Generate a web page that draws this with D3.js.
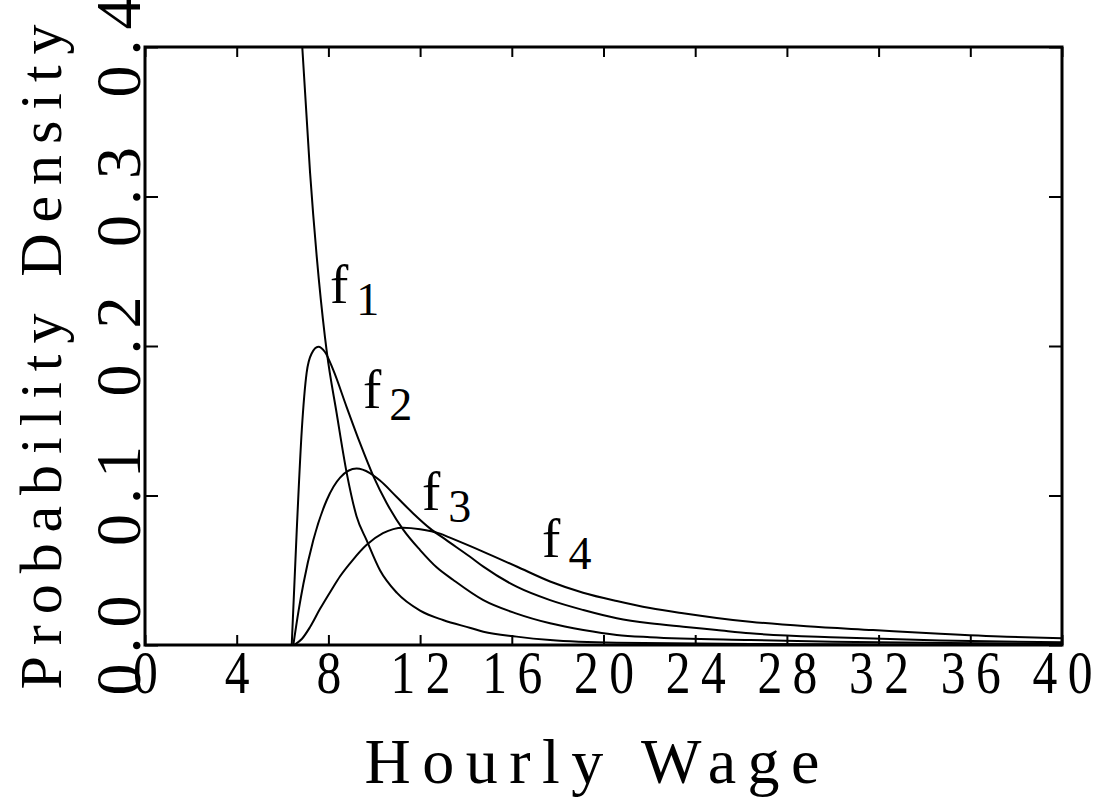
<!DOCTYPE html>
<html>
<head>
<meta charset="utf-8">
<script src="https://cdn.jsdelivr.net/npm/d3@7"></script>
<style>
  body { margin: 0; background: #fff; }
  text { font-family: "Liberation Serif", serif; fill: #000; }
</style>
</head>
<body>
<div id="chart"></div>
<script>
// tick values
var xTicks = [0, 4, 8, 12, 16, 20, 24, 28, 32, 36, 40];
var yTicks = [0, 0.1, 0.2, 0.3, 0.4];

// curves (hourly wage, density)
var f1Wage = [6.86, 7.20, 7.49, 7.85, 7.93, 8.36, 8.80, 9.23, 9.67, 10.25, 10.98, 12.0, 13.0, 14.2, 14.76, 16.21, 17.67, 20.58, 26.4, 32, 40];
var f1Dens = [0.400, 0.316, 0.260, 0.206, 0.196, 0.155, 0.115, 0.086, 0.070, 0.050, 0.035, 0.023, 0.0167, 0.0114, 0.0089, 0.0056, 0.0033, 0.0015, 0.0007, 0.0004, 0.0002];

var f2Wage = [6.40, 6.62, 6.84, 7.05, 7.27, 7.56, 7.85, 8.21, 8.80, 9.38, 9.96, 10.54, 11.27, 12.0, 12.72, 13.45, 14.76, 16.21, 17.67, 19.12, 20.58, 22.03, 26.4, 30, 35, 40];
var f2Dens = [0, 0.077, 0.144, 0.182, 0.195, 0.1995, 0.196, 0.184, 0.159, 0.135, 0.113, 0.095, 0.077, 0.0635, 0.052, 0.0435, 0.030, 0.021, 0.0145, 0.010, 0.0067, 0.0052, 0.0033, 0.0022, 0.0013, 0.0008];

var f3Wage = [6.47, 6.70, 6.91, 7.34, 7.93, 8.51, 9.23, 9.81, 10.25, 10.98, 11.70, 12.43, 13.16, 14.18, 14.76, 16.21, 17.67, 19.12, 20.58, 22.03, 23.48, 24.94, 26.39, 30.3, 34.7, 40];
var f3Dens = [0, 0.023, 0.041, 0.070, 0.097, 0.112, 0.118, 0.115, 0.110, 0.099, 0.088, 0.078, 0.070, 0.059, 0.0524, 0.039, 0.030, 0.0234, 0.0179, 0.0145, 0.0122, 0.0100, 0.0078, 0.005, 0.003, 0.0018];

var f4Wage = [6.50, 6.84, 7.20, 7.63, 8.14, 8.51, 9.07, 9.67, 10.38, 11.25, 12.0, 12.87, 13.30, 14.74, 16.21, 17.67, 19.11, 20.58, 22.03, 23.47, 24.94, 26.39, 28.86, 31.76, 34.68, 37.59, 40];
var f4Dens = [0, 0.004, 0.012, 0.024, 0.037, 0.046, 0.057, 0.067, 0.0748, 0.0785, 0.0775, 0.0745, 0.0718, 0.0625, 0.0525, 0.0425, 0.0350, 0.0294, 0.0247, 0.0212, 0.0181, 0.0156, 0.0125, 0.0100, 0.0075, 0.0055, 0.0045];

// curve labels: subscript, anchor wage, anchor density
var labelSubs = ["1", "2", "3", "4"];
var labelWage = [8.07, 9.51, 12.08, 17.32];
var labelDens = [0.229, 0.1585, 0.0903, 0.0589];

var width = 1097, height = 803;
var margin = {top: 47, right: 35, bottom: 158, left: 145};
var plotW = width - margin.left - margin.right,
    plotH = height - margin.top - margin.bottom;

var svg = d3.select("#chart").append("svg")
    .attr("width", width)
    .attr("height", height);

var g = svg.append("g")
    .attr("transform", "translate(" + margin.left + "," + margin.top + ")");

var x = d3.scaleLinear().domain([0, 40]).range([0, plotW]);
var y = d3.scaleLinear().domain([0, 0.4]).range([plotH, 0]);

g.append("clipPath").attr("id", "clip")
  .append("rect").attr("width", plotW).attr("height", plotH);

// axes, ticks pointing inward
var axisB = g.append("g")
    .attr("transform", "translate(0," + plotH + ")")
    .call(d3.axisBottom(x).tickValues(xTicks).tickSize(-10).tickSizeOuter(0));
var axisT = g.append("g")
    .call(d3.axisTop(x).tickValues(xTicks).tickSize(-10).tickSizeOuter(0).tickFormat(""));
var axisL = g.append("g")
    .call(d3.axisLeft(y).tickValues(yTicks).tickSize(-13).tickSizeOuter(0).tickFormat(d3.format(".1f")));
var axisR = g.append("g")
    .attr("transform", "translate(" + plotW + ",0)")
    .call(d3.axisRight(y).tickValues(yTicks).tickSize(-13).tickSizeOuter(0).tickFormat(""));

[axisB, axisT, axisL, axisR].forEach(function (a) {
    a.select(".domain").remove();
    a.selectAll("line").attr("stroke", "#000").attr("stroke-width", 2);
});

// narrow, spaced-out digits like the plotter font
axisB.selectAll("text")
    .attr("y", 48)
    .attr("dy", 0)
    .attr("font-size", "62px")
    .attr("font-family", "Liberation Serif")
    .attr("transform", "scale(0.8,1)")
    .each(function (d) {
        if (String(d).length > 1) {
            d3.select(this)
                .attr("textLength", String(d).length * 30 / 0.8)
                .attr("lengthAdjust", "spacing");
        }
    });

axisL.selectAll("text")
    .attr("x", 0)
    .attr("dy", 0)
    .attr("text-anchor", "middle")
    .attr("transform", "translate(-5,0) rotate(-90)")
    .attr("font-size", "64px")
    .attr("font-family", "Liberation Serif")
    .attr("textLength", 100)
    .attr("lengthAdjust", "spacing");

// frame
g.append("rect")
    .attr("width", plotW)
    .attr("height", plotH)
    .attr("fill", "none")
    .attr("stroke", "#000")
    .attr("stroke-width", 3);

var series = [
    d3.zip(f1Wage, f1Dens),
    d3.zip(f2Wage, f2Dens),
    d3.zip(f3Wage, f3Dens),
    d3.zip(f4Wage, f4Dens)
];

var line = d3.line()
    .x(function (d) { return x(d[0]); })
    .y(function (d) { return y(d[1]); })
    .curve(d3.curveMonotoneX);

g.append("g").attr("clip-path", "url(#clip)")
  .selectAll("path")
  .data(series)
  .enter().append("path")
    .attr("d", line)
    .attr("fill", "none")
    .attr("stroke", "#000")
    .attr("stroke-width", 2);

// f labels with subscripts
var lab = g.selectAll(".flab")
    .data(labelSubs)
    .enter().append("text")
    .attr("class", "flab")
    .attr("x", function (d, i) { return x(labelWage[i]); })
    .attr("y", function (d, i) { return y(labelDens[i]); })
    .attr("font-size", "55px");
lab.append("tspan").text("f");
lab.append("tspan")
    .attr("dx", 8)
    .attr("dy", 12)
    .attr("font-size", "46px")
    .text(function (d) { return d; });

// axis titles
svg.append("text")
    .attr("x", 592)
    .attr("y", 783)
    .attr("text-anchor", "middle")
    .attr("font-size", "64px")
    .attr("textLength", 455)
    .attr("lengthAdjust", "spacing")
    .text("Hourly Wage");

svg.append("text")
    .attr("transform", "translate(61," + 357 + ") rotate(-90)")
    .attr("text-anchor", "middle")
    .attr("font-size", "60px")
    .attr("textLength", 665)
    .attr("lengthAdjust", "spacing")
    .text("Probability Density");
</script>
</body>
</html>
